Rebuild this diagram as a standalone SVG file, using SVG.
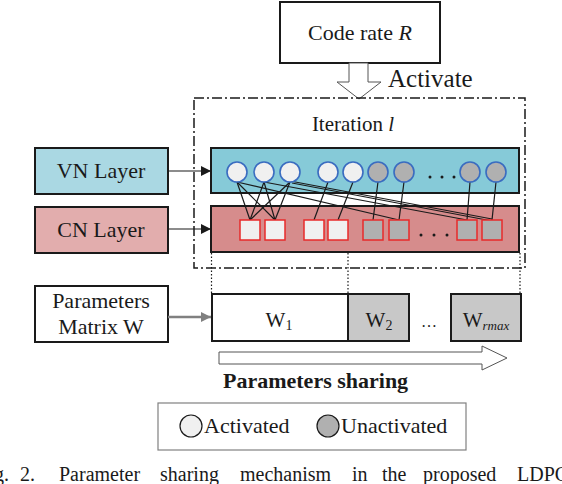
<svg xmlns="http://www.w3.org/2000/svg" width="562" height="484" viewBox="0 0 562 484">
<style>
text{font-family:"Liberation Serif","Times New Roman",serif;fill:#1a1a1a}
.box{stroke:#1a1a1a;stroke-width:2}
.act{fill:#f0f0f0;stroke:#3a6cc0;stroke-width:1.6}
.una{fill:#b0b0b0;stroke:#3a6cc0;stroke-width:1.6}
.sqa{fill:#f0f0f0;stroke:#e82a2a;stroke-width:1.5}
.squ{fill:#b0b0b0;stroke:#e82a2a;stroke-width:1.5}
.ln{stroke:#1a1a1a;stroke-width:1.2;fill:none}
.dot{stroke:#1a1a1a;stroke-width:1.2;stroke-dasharray:1.5 2;fill:none}
</style>
<defs>
<marker id="ah" viewBox="0 0 10 10" refX="10" refY="5" markerWidth="10" markerHeight="10" markerUnits="userSpaceOnUse" orient="auto"><path d="M0,0 L10,5 L0,10 z" fill="#1a1a1a"/></marker>
<marker id="ahg" viewBox="0 0 10 10" refX="10" refY="5" markerWidth="10" markerHeight="10" markerUnits="userSpaceOnUse" orient="auto"><path d="M0,0 L10,5 L0,10 z" fill="#808080"/></marker>
</defs>
<rect width="562" height="484" fill="#fff"/>

<g id="code-rate">
<rect x="280" y="2" width="160" height="61" fill="#fff" class="box" stroke-width="1.5"/>
<text x="360" y="40" font-size="22" text-anchor="middle">Code rate <tspan font-style="italic">R</tspan></text>
</g>
<g id="activate-arrow">
<polygon points="349,63 368,63 368,82 381,82 359,99 337,82 349,82" fill="#fff" stroke="#555" stroke-width="1"/>
<text x="388" y="87" font-size="25">Activate</text>
</g>

<g id="iteration">
<rect x="194" y="98" width="331" height="170" fill="none" stroke="#1a1a1a" stroke-width="1.5" stroke-dasharray="10 3 2 3"/>
<text x="353" y="131" font-size="21" text-anchor="middle">Iteration <tspan font-style="italic">l</tspan></text>
</g>

<g id="vn-layer">
<rect x="35" y="148" width="133" height="46" fill="#aad8e3" class="box"/>
<text x="101" y="178" font-size="22" text-anchor="middle">VN Layer</text>
</g>
<g id="cn-layer">
<rect x="35" y="207" width="133" height="46" fill="#e2adad" class="box"/>
<text x="101" y="237" font-size="22" text-anchor="middle">CN Layer</text>
</g>
<g id="params-matrix">
<rect x="35" y="286" width="133" height="56" fill="#fff" class="box"/>
<text x="101" y="308" font-size="22" text-anchor="middle">Parameters</text>
<text x="101" y="334" font-size="22" text-anchor="middle">Matrix W</text>
</g>

<g id="vn-band">
<rect x="211" y="148" width="308" height="45" fill="#86cad8" class="box"/>
</g>
<g id="cn-band">
<rect x="211" y="206" width="308" height="46" fill="#d68c8c" class="box"/>
</g>

<g id="connectors">
<line x1="168" y1="171" x2="211" y2="171" class="ln" stroke-width="1.5" marker-end="url(#ah)"/>
<line x1="168" y1="229" x2="211" y2="229" class="ln" stroke-width="1.5" marker-end="url(#ah)"/>
<line x1="168" y1="317" x2="211" y2="317" stroke="#808080" stroke-width="2.5" marker-end="url(#ahg)"/>
<line x1="237" y1="182" x2="250" y2="220" class="ln"/>
<line x1="237" y1="182" x2="275" y2="220" class="ln"/>
<line x1="237" y1="182" x2="399" y2="220" class="ln"/>
<line x1="264" y1="182" x2="250" y2="220" class="ln"/>
<line x1="264" y1="182" x2="275" y2="220" class="ln"/>
<line x1="264" y1="182" x2="467" y2="220" class="ln"/>
<line x1="290" y1="182" x2="250" y2="220" class="ln"/>
<line x1="290" y1="182" x2="275" y2="220" class="ln"/>
<line x1="290" y1="181" x2="492" y2="219" class="ln"/>
<line x1="292" y1="183" x2="492" y2="221" class="ln"/>
<line x1="328" y1="182" x2="314" y2="220" class="ln"/>
<line x1="353" y1="182" x2="338" y2="220" class="ln"/>
<line x1="378" y1="182" x2="373" y2="220" class="ln"/>
<line x1="404" y1="182" x2="399" y2="220" class="ln"/>
<line x1="470" y1="182" x2="467" y2="220" class="ln"/>
<line x1="496" y1="182" x2="492" y2="220" class="ln"/>
<line x1="211.5" y1="253" x2="211.5" y2="294" class="dot"/>
<line x1="348" y1="253" x2="348" y2="294" class="dot"/>
<line x1="520" y1="253" x2="520" y2="294" class="dot"/>
</g>

<g id="variable-nodes">
<circle cx="237" cy="172" r="10" class="act"/>
<circle cx="264" cy="172" r="10" class="act"/>
<circle cx="290" cy="172" r="10" class="act"/>
<circle cx="328" cy="172" r="10" class="act"/>
<circle cx="353" cy="172" r="10" class="act"/>
<circle cx="378" cy="172" r="10" class="una"/>
<circle cx="404" cy="172" r="10" class="una"/>
<circle cx="470" cy="172" r="10" class="una"/>
<circle cx="496" cy="172" r="10" class="una"/>
<circle cx="430" cy="177" r="1.5" fill="#1a1a1a"/>
<circle cx="442" cy="177" r="1.5" fill="#1a1a1a"/>
<circle cx="454" cy="177" r="1.5" fill="#1a1a1a"/>
</g>
<g id="check-nodes">
<rect x="240" y="220" width="20" height="20" class="sqa"/>
<rect x="265" y="220" width="20" height="20" class="sqa"/>
<rect x="304" y="220" width="20" height="20" class="sqa"/>
<rect x="328" y="220" width="20" height="20" class="sqa"/>
<rect x="363" y="220" width="20" height="20" class="squ"/>
<rect x="389" y="220" width="20" height="20" class="squ"/>
<rect x="457" y="220" width="20" height="20" class="squ"/>
<rect x="482" y="220" width="20" height="20" class="squ"/>
<circle cx="421" cy="235" r="1.5" fill="#1a1a1a"/>
<circle cx="434" cy="235" r="1.5" fill="#1a1a1a"/>
<circle cx="447" cy="235" r="1.5" fill="#1a1a1a"/>
</g>

<g id="w1">
<rect x="212" y="294" width="136" height="47" fill="#fff" class="box"/>
<text x="279" y="327" font-size="21" text-anchor="middle">W<tspan font-size="14" dy="3">1</tspan></text>
</g>
<g id="w2">
<rect x="348" y="294" width="61" height="47" fill="#c8c8c8" class="box"/>
<text x="379" y="327" font-size="21" text-anchor="middle">W<tspan font-size="14" dy="3">2</tspan></text>
</g>
<text x="429" y="327" font-size="16" text-anchor="middle">…</text>
<g id="wrmax">
<rect x="451" y="294" width="70" height="47" fill="#c8c8c8" class="box"/>
<text x="486" y="327" font-size="21" text-anchor="middle">W<tspan font-size="13" dy="3" font-style="italic">rmax</tspan></text>
</g>

<g id="sharing-arrow">
<polygon points="219,352 482,352 482,346 507,358 482,370 482,364 219,364" fill="#fff" stroke="#555" stroke-width="1"/>
<text x="223" y="388" font-size="22" font-weight="bold">Parameters sharing</text>
</g>

<g id="legend">
<rect x="158" y="403" width="308" height="47" fill="#fff" stroke="#808080" stroke-width="1.2"/>
<circle cx="191" cy="426" r="11" fill="#f0f0f0" stroke="#1a1a1a" stroke-width="1.2"/>
<text x="204" y="433" font-size="22">Activated</text>
<circle cx="328" cy="426" r="11" fill="#b0b0b0" stroke="#1a1a1a" stroke-width="1.2"/>
<text x="341" y="433" font-size="22">Unactivated</text>
</g>

<g id="caption">
<text x="9" y="481" text-anchor="end" font-size="20">Fig.</text>
<text x="20" y="481" font-size="20">2.</text>
<text x="59" y="481" font-size="20">Parameter</text>
<text x="160" y="481" font-size="20">sharing</text>
<text x="240" y="481" font-size="20">mechanism</text>
<text x="352" y="481" font-size="20">in</text>
<text x="382" y="481" font-size="20">the</text>
<text x="423" y="481" font-size="20">proposed</text>
<text x="517" y="481" font-size="20">LDPC</text>
</g>
</svg>
